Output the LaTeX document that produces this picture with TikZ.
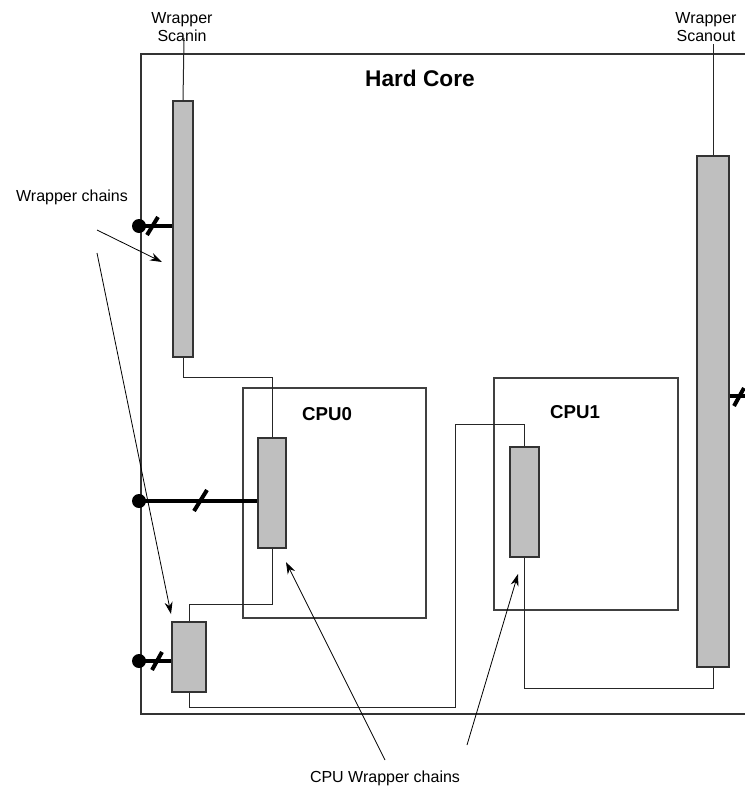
\documentclass[tikz,border=0pt]{standalone}
\usepackage{fontspec}
\setmainfont{Liberation Sans}
\usetikzlibrary{arrows.meta}
\begin{document}
\begin{tikzpicture}[x=0.75pt,y=-0.75pt,
  chainbox/.style={draw=black!80,fill=black!25,line width=0.8pt,inner sep=0pt},
  cpubox/.style={draw=black!75,line width=0.8pt,inner sep=0pt},
  wire/.style={draw=black!85,line width=0.75pt},
  bus/.style={line width=3pt,line cap=butt},
  dotmark/.style={circle,fill=black,inner sep=0pt,minimum size=10.5pt},
  note/.style={font=\fontsize{12pt}{14pt}\selectfont,align=center,inner sep=1pt},
  ptr/.style={draw=black,line width=0.6pt,-{Stealth[length=9pt,width=6pt]}}]
\useasboundingbox (0,0) rectangle (744,789);
% hard core frame
\draw[black!80,line width=0.8pt] (760,54) -- (141,54) -- (141,714) -- (760,714);
\node[font=\fontsize{17pt}{20pt}\selectfont\bfseries] (hc) at (420,78) {Hard Core};
% CPU boxes
\node[cpubox,minimum width=137.25pt,minimum height=172.5pt] (cpu0) at (334.5,503) {};
\node[font=\fontsize{14pt}{16pt}\selectfont\bfseries] (cpu0l) at (327,414) {CPU0};
\node[cpubox,minimum width=138pt,minimum height=174pt] (cpu1) at (586,494) {};
\node[font=\fontsize{14pt}{16pt}\selectfont\bfseries] (cpu1l) at (575,412) {CPU1};
% chains
\node[chainbox,minimum width=15pt,minimum height=192pt] (c1) at (183,229) {};
\node[chainbox,minimum width=21pt,minimum height=82.5pt] (c2) at (272,493) {};
\node[chainbox,minimum width=25.5pt,minimum height=52.5pt] (c3) at (189,657) {};
\node[chainbox,minimum width=21.75pt,minimum height=82.5pt] (c4) at (524.5,502) {};
\node[chainbox,minimum width=24pt,minimum height=383.25pt] (c5) at (713,411.5) {};
% labels
\node[note] (scanin) at (182,27) {Wrapper\\Scanin};
\node[note] (scanout) at (706,27) {Wrapper\\Scanout};
\node[note] (wch) at (72,197) {Wrapper chains};
\node[note] (cwch) at (385,778) {CPU Wrapper chains};
% scan path
\coordinate (j1) at (455,707);
\coordinate (j2) at (455,424);
\draw[wire] (184,38) -- (c1.north);
\draw[wire] (c1.south) -- ++(0,20) -| (c2.north);
\draw[wire] (c2.south) -- ++(0,56) -| (c3.north);
\draw[wire] (c3.south) |- (j1) -- (j2) -| (c4.north);
\draw[wire] (c4.south) -- ++(0,131) -| (c5.south);
\draw[wire] (c5.north) -- (713,44);
% buses
\node[dotmark] (d1) at (139,226) {};
\node[dotmark] (d2) at (139,501) {};
\node[dotmark] (d3) at (139,661) {};
\draw[bus] (d1.center) -- (d1.center -| c1.west);
\draw[bus] (d2.center) -- (d2.center -| c2.west);
\draw[bus] (d3.center) -- (d3.center -| c3.west);
\coordinate (rb) at (760,396);
\draw[bus] (c5.east |- rb) -- (rb);
\draw[bus] (147,235) -- (158,217);
\draw[bus] (194,511) -- (207,490);
\draw[bus] (152,670) -- (162,652);
\draw[bus] (734,406) -- (744,388);
% pointers
\draw[ptr] (97,230) -- (162,262);
\draw[ptr] (97,253) -- (171,614);
\draw[ptr] (385,760) -- (286,562);
\draw[ptr] (467,745) -- (518,574);
\end{tikzpicture}
\end{document}
